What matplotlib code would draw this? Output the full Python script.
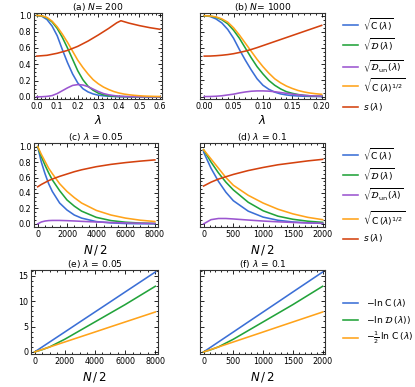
import numpy as np
import matplotlib
matplotlib.use("Agg")
import matplotlib.pyplot as plt
from matplotlib.lines import Line2D
from matplotlib.ticker import MultipleLocator, AutoMinorLocator

# ---------------- data ----------------
# (a) N = 200
lam_a = [0, .025, .05, .075, .1, .125, .15, .175, .2, .225, .25, .275, .3,
         .325, .35, .375, .4, .425, .45, .475, .5, .525, .55, .575, .6]
blue_a = [1.0, 0.99, 0.95, 0.87, 0.75, 0.58, 0.42, 0.28, 0.17, 0.10, 0.06, 0.035, 0.02,
          0.012, 0.007, 0.004, 0.002, 0.001, 0, 0, 0, 0, 0, 0, 0]
green_a = [1.0, 0.995, 0.97, 0.92, 0.84, 0.73, 0.60, 0.46, 0.32, 0.21, 0.13, 0.08, 0.045,
           0.025, 0.013, 0.007, 0.003, 0.002, 0.001, 0, 0, 0, 0, 0, 0]
purple_a = [0, 0.001, 0.005, 0.015, 0.04, 0.075, 0.11, 0.14, 0.15, 0.145, 0.125, 0.095, 0.065,
            0.04, 0.025, 0.015, 0.008, 0.004, 0.002, 0.001, 0, 0, 0, 0, 0]
orange_a = [1.0, 0.995, 0.975, 0.93, 0.86, 0.77, 0.67, 0.56, 0.45, 0.36, 0.28, 0.21, 0.16,
            0.12, 0.09, 0.065, 0.047, 0.034, 0.025, 0.018, 0.013, 0.009, 0.007, 0.005, 0.004]
lam_a_s = [0, .05, .1, .15, .2, .25, .3, .35, .39, .41, .43, .45, .5, .55, .6]
red_a = [0.5, 0.51, 0.535, 0.57, 0.62, 0.685, 0.76, 0.84, 0.91, 0.935, 0.92, 0.905, 0.875, 0.85, 0.83]

# (b) N = 1000
lam_b = [0, .01, .02, .03, .04, .05, .06, .07, .08, .09, .10, .11, .12, .13, .14,
         .15, .16, .17, .18, .19, .20]
blue_b = [1.0, 0.99, 0.96, 0.91, 0.83, 0.72, 0.58, 0.45, 0.33, 0.22, 0.14, 0.09, 0.055,
          0.033, 0.02, 0.012, 0.007, 0.004, 0.002, 0.001, 0]
green_b = [1.0, 0.995, 0.98, 0.95, 0.90, 0.82, 0.72, 0.60, 0.48, 0.37, 0.28, 0.20, 0.14,
           0.095, 0.06, 0.04, 0.025, 0.015, 0.009, 0.005, 0.003]
purple_b = [0, 0.001, 0.004, 0.01, 0.02, 0.03, 0.045, 0.057, 0.066, 0.07, 0.07, 0.067, 0.06,
            0.05, 0.04, 0.03, 0.022, 0.015, 0.01, 0.007, 0.005]
orange_b = [1.0, 0.995, 0.985, 0.96, 0.92, 0.85, 0.76, 0.66, 0.56, 0.46, 0.37, 0.29, 0.22,
            0.17, 0.13, 0.10, 0.075, 0.057, 0.044, 0.035, 0.028]
red_b = [0.5, 0.501, 0.505, 0.511, 0.519, 0.53, 0.545, 0.562, 0.582, 0.605, 0.63, 0.655,
         0.68, 0.705, 0.73, 0.755, 0.78, 0.805, 0.83, 0.855, 0.88]

# (c) lambda = 0.05
n_c = [0, 250, 500, 750, 1000, 1500, 2000, 2500, 3000, 4000, 5000, 6000, 7000, 8000]
blue_c = [1.0, 0.80, 0.65, 0.52, 0.42, 0.27, 0.18, 0.115, 0.075, 0.03, 0.013, 0.005, 0.002, 0.001]
green_c = [1.0, 0.87, 0.76, 0.66, 0.57, 0.43, 0.31, 0.23, 0.165, 0.085, 0.043, 0.022, 0.011, 0.006]
purple_c = [0, 0.025, 0.037, 0.043, 0.045, 0.045, 0.042, 0.038, 0.033, 0.025, 0.018, 0.013, 0.009, 0.006]
orange_c = [1.0, 0.90, 0.81, 0.72, 0.65, 0.52, 0.42, 0.34, 0.27, 0.175, 0.115, 0.075, 0.048, 0.031]
red_c = [0.48, 0.51, 0.535, 0.56, 0.58, 0.615, 0.645, 0.675, 0.70, 0.74, 0.77, 0.793, 0.812, 0.828]

# (d) lambda = 0.1
n_d = [0, 125, 250, 375, 500, 750, 1000, 1250, 1500, 1750, 2000]
blue_d = [0.93, 0.72, 0.55, 0.41, 0.30, 0.165, 0.088, 0.047, 0.025, 0.013, 0.007]
green_d = [0.96, 0.80, 0.66, 0.54, 0.44, 0.28, 0.17, 0.10, 0.06, 0.035, 0.02]
purple_d = [0.0, 0.055, 0.07, 0.07, 0.064, 0.05, 0.037, 0.027, 0.019, 0.013, 0.009]
orange_d = [0.96, 0.84, 0.72, 0.60, 0.50, 0.37, 0.27, 0.19, 0.13, 0.085, 0.055]
red_d = [0.49, 0.54, 0.58, 0.61, 0.64, 0.69, 0.73, 0.765, 0.79, 0.815, 0.835]

# (e) lambda = 0.05
n_e = [0, 500, 1000, 2000, 3000, 4000, 5000, 6000, 7000, 8000]
lnC_e = [0, 0.98, 1.96, 3.92, 5.89, 7.85, 9.81, 11.78, 13.74, 15.7]
lnD_e = [0, 0.45, 1.0, 2.5, 4.2, 5.9, 7.6, 9.3, 11.1, 12.9]
halflnC_e = [0, 0.49, 0.98, 1.96, 2.94, 3.92, 4.91, 5.89, 6.87, 7.85]

# (f) lambda = 0.1
n_f = [0, 125, 250, 500, 750, 1000, 1250, 1500, 1750, 2000]
lnC_f = [0, 0.98, 1.96, 3.92, 5.89, 7.85, 9.81, 11.78, 13.74, 15.7]
lnD_f = [0, 0.45, 1.0, 2.5, 4.2, 5.9, 7.6, 9.3, 11.1, 12.9]
halflnC_f = [0, 0.49, 0.98, 1.96, 2.94, 3.92, 4.91, 5.89, 6.87, 7.85]

# ---------------- style ----------------
BLUE = "#3b6fd6"
GREEN = "#22a33a"
PURPLE = "#9b55d0"
ORANGE = "#ffa31a"
RED = "#d4420f"
LW = 1.15
TICKFS = 5.8

fig = plt.figure(figsize=(4.15, 3.87), dpi=100)
W, H = 415.0, 387.0


def ax_px(l, r, t, b):
    return fig.add_axes([l / W, 1 - b / H, (r - l) / W, (b - t) / H])


def style(ax, xmaj, xmin_n, ymaj, ymin_n):
    ax.xaxis.set_major_locator(MultipleLocator(xmaj))
    ax.yaxis.set_major_locator(MultipleLocator(ymaj))
    ax.xaxis.set_minor_locator(AutoMinorLocator(xmin_n))
    ax.yaxis.set_minor_locator(AutoMinorLocator(ymin_n))
    ax.tick_params(which="both", direction="in", top=True, right=True,
                   labelsize=TICKFS, width=0.6, pad=2)
    ax.tick_params(which="major", length=2.6)
    ax.tick_params(which="minor", length=1.3)
    for sp in ax.spines.values():
        sp.set_linewidth(0.8)
        sp.set_color("#333333")


def title(ax, s):
    ax.set_title(s, fontsize=6.6, pad=2.2)


# (a)
axa = ax_px(34, 162, 13, 99)
axa.plot(lam_a, blue_a, color=BLUE, lw=LW)
axa.plot(lam_a, green_a, color=GREEN, lw=LW)
axa.plot(lam_a, purple_a, color=PURPLE, lw=LW)
axa.plot(lam_a, orange_a, color=ORANGE, lw=LW)
axa.plot(lam_a_s, red_a, color=RED, lw=LW)
axa.set_xlim(-0.013, 0.61)
axa.set_ylim(-0.027, 1.03)
style(axa, 0.1, 5, 0.2, 4)
axa.set_xticklabels([], minor=True)
axa.xaxis.set_major_formatter(matplotlib.ticker.FormatStrFormatter("%.1f"))
axa.yaxis.set_major_formatter(matplotlib.ticker.FormatStrFormatter("%.1f"))
title(axa, "(a) $N$= 200")
axa.set_xlabel(r"$\lambda$", fontsize=8.5, labelpad=2)

# (b)
axb = ax_px(200, 325, 13, 99)
axb.plot(lam_b, blue_b, color=BLUE, lw=LW)
axb.plot(lam_b, green_b, color=GREEN, lw=LW)
axb.plot(lam_b, purple_b, color=PURPLE, lw=LW)
axb.plot(lam_b, orange_b, color=ORANGE, lw=LW)
axb.plot(lam_b, red_b, color=RED, lw=LW)
axb.set_xlim(-0.0072, 0.2057)
axb.set_ylim(-0.03, 1.033)
style(axb, 0.05, 5, 0.2, 4)
axb.set_yticklabels([])
axb.xaxis.set_major_formatter(matplotlib.ticker.FormatStrFormatter("%.2f"))
title(axb, "(b) $N$= 1000")
axb.set_xlabel(r"$\lambda$", fontsize=8.5, labelpad=2)

# (c)
axc = ax_px(34, 157.5, 143.5, 227)
axc.plot(n_c, blue_c, color=BLUE, lw=LW)
axc.plot(n_c, green_c, color=GREEN, lw=LW)
axc.plot(n_c, purple_c, color=PURPLE, lw=LW)
axc.plot(n_c, orange_c, color=ORANGE, lw=LW)
axc.plot(n_c, red_c, color=RED, lw=LW)
axc.set_xlim(-250, 8180)
axc.set_ylim(-0.04, 1.04)
style(axc, 2000, 4, 0.2, 4)
axc.yaxis.set_major_formatter(matplotlib.ticker.FormatStrFormatter("%.1f"))
title(axc, r"(c) $\lambda$ = 0.05")
axc.set_xlabel(r"$N\,/\,2$", fontsize=8.5, labelpad=3)

# (d)
axd = ax_px(200, 325, 143.5, 227)
axd.plot(n_d, blue_d, color=BLUE, lw=LW)
axd.plot(n_d, green_d, color=GREEN, lw=LW)
axd.plot(n_d, purple_d, color=PURPLE, lw=LW)
axd.plot(n_d, orange_d, color=ORANGE, lw=LW)
axd.plot(n_d, red_d, color=RED, lw=LW)
axd.set_xlim(-60, 2040)
axd.set_ylim(-0.04, 1.04)
style(axd, 500, 5, 0.2, 4)
axd.set_yticklabels([])
title(axd, r"(d) $\lambda$ = 0.1")
axd.set_xlabel(r"$N\,/\,2$", fontsize=8.5, labelpad=3)

# (e)
axe = ax_px(31, 158, 270, 354)
axe.plot(n_e, lnC_e, color=BLUE, lw=LW)
axe.plot(n_e, lnD_e, color=GREEN, lw=LW)
axe.plot(n_e, halflnC_e, color=ORANGE, lw=LW)
axe.set_xlim(-240, 8180)
axe.set_ylim(-0.4, 16.1)
style(axe, 2000, 4, 5, 5)
title(axe, r"(e) $\lambda$ = 0.05")
axe.set_xlabel(r"$N\,/\,2$", fontsize=8.5, labelpad=3)

# (f)
axf = ax_px(200, 325, 270, 354)
axf.plot(n_f, lnC_f, color=BLUE, lw=LW)
axf.plot(n_f, lnD_f, color=GREEN, lw=LW)
axf.plot(n_f, halflnC_f, color=ORANGE, lw=LW)
axf.set_xlim(-60, 2040)
axf.set_ylim(-0.4, 16.1)
style(axf, 500, 5, 5, 5)
axf.set_yticklabels([])
title(axf, r"(f) $\lambda$ = 0.1")
axf.set_xlabel(r"$N\,/\,2$", fontsize=8.5, labelpad=3)

# ---------------- legends ----------------
leg1_labels = [r"$\sqrt{\mathrm{C}\,(\lambda)}$", r"$\sqrt{\mathcal{D}\,(\lambda)}$",
               r"$\sqrt{\mathcal{D}_{\mathrm{un}}\,(\lambda)}$",
               r"$\sqrt{\mathrm{C}\,(\lambda)^{1/2}}$", r"$s\,(\lambda)$"]
leg1_colors = [BLUE, GREEN, PURPLE, ORANGE, RED]
leg3_labels = [r"$-\ln\,\mathrm{C}\,(\lambda)$", r"$-\ln\,\mathcal{D}\,(\lambda))$",
               r"$-\frac{1}{2}\,\ln\,\mathrm{C}\,(\lambda)$"]
leg3_colors = [BLUE, GREEN, ORANGE]

rows1 = [25, 44.5, 66.5, 86, 107]
rows2 = [154.5, 174.5, 195, 219, 238.5]
rows3 = [303, 319.5, 338]


def draw_legend(labels, colors, rows, tx):
    for lab, col, y in zip(labels, colors, rows):
        fig.add_artist(Line2D([343 / W, 358 / W], [1 - y / H, 1 - y / H],
                              transform=fig.transFigure, color=col, lw=LW))
        fig.text(tx / W, 1 - y / H, lab, fontsize=6.6, va="center", ha="left")


draw_legend(leg1_labels, leg1_colors, rows1, 363)
draw_legend(leg1_labels, leg1_colors, rows2, 363)
draw_legend(leg3_labels, leg3_colors, rows3, 366)

fig.savefig("out.png", dpi=100)
